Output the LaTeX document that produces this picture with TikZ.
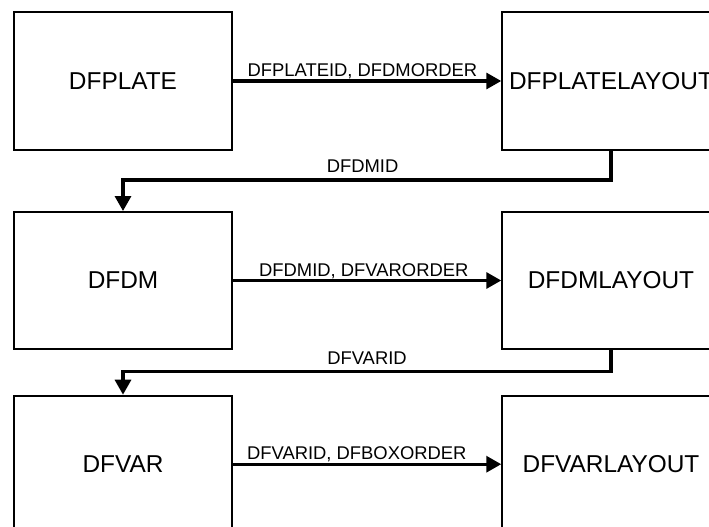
\documentclass[tikz,border=0pt]{standalone}
\usepackage{fontspec}
\setmainfont{Liberation Sans}
\usetikzlibrary{arrows.meta}
\begin{document}
\begin{tikzpicture}[x=1pt,y=-1pt,
  box/.style={draw, line width=2pt, minimum width=217.5pt, minimum height=137pt, inner sep=0pt, font=\fontsize{24.4}{28}\selectfont},
  conn/.style={line width=3.3pt, -{Triangle[length=15pt,width=16pt]}},
  lab/.style={font=\fontsize{18.4}{21}\selectfont, inner sep=0pt, anchor=base}]
\useasboundingbox (0,0) rectangle (709,527);
\clip (0,0) rectangle (709,527);
\node[box] (plate) at (123,81) {DFPLATE};
\node[box] (platelayout) at (611,81) {DFPLATELAYOUT};
\node[box] (dm) at (123,280.5) {DFDM};
\node[box] (dmlayout) at (611,280.5) {DFDMLAYOUT};
\node[box] (var) at (123,464.2) {DFVAR};
\node[box] (varlayout) at (611,464.2) {DFVARLAYOUT};
\coordinate (e1) at (0,180);
\coordinate (e2) at (0,371.8);
\draw[conn] (plate.east) -- node[lab, pos=0.483, yshift=4.3pt]{DFPLATEID, DFDMORDER} (platelayout.west);
\draw[conn] (dm.east) -- node[lab, pos=0.488, yshift=4.3pt]{DFDMID, DFVARORDER} (dmlayout.west);
\draw[conn] (var.east) -- node[lab, pos=0.462, yshift=4.3pt]{DFVARID, DFBOXORDER} (varlayout.west);
\draw[conn] (platelayout.south) -- (platelayout.south |- e1) -- node[lab, pos=0.509, yshift=7.3pt]{DFDMID} (dm.north |- e1) -- (dm.north);
\draw[conn] (dmlayout.south) -- (dmlayout.south |- e2) -- node[lab, pos=0.5, yshift=7.8pt]{DFVARID} (var.north |- e2) -- (var.north);
\end{tikzpicture}
\end{document}
